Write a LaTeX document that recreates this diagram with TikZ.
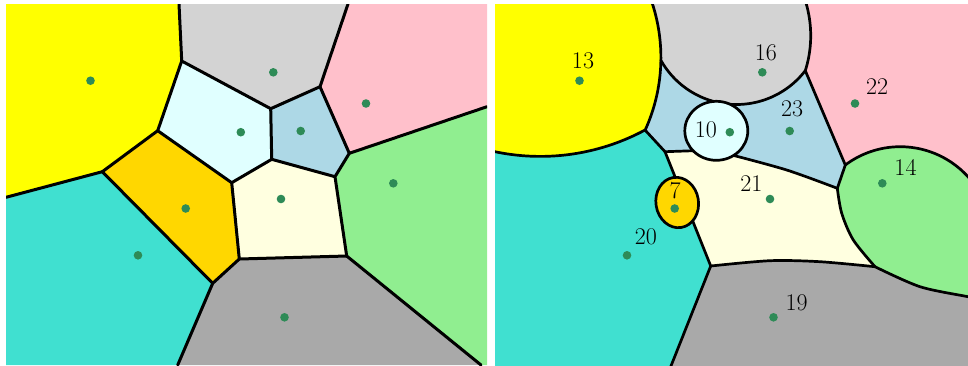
\documentclass[tikz,border=0pt]{standalone}
\usepackage{fontspec}
\setmainfont{Latin Modern Roman}
\definecolor{cyellow}{HTML}{FFFF00}
\definecolor{clgray}{HTML}{D3D3D3}
\definecolor{cpink}{HTML}{FFC0CB}
\definecolor{clcyan}{HTML}{E0FFFF}
\definecolor{clblue}{HTML}{ADD8E6}
\definecolor{clgreen}{HTML}{90EE90}
\definecolor{clyellow}{HTML}{FFFFE0}
\definecolor{cgold}{HTML}{FFD700}
\definecolor{cturq}{HTML}{40E0D0}
\definecolor{cdgray}{HTML}{A9A9A9}
\definecolor{cdot}{HTML}{2E8B57}
\tikzset{
  edgeL/.style={line width=3pt, line join=round, line cap=round},
  edgeR/.style={line width=2.7pt, line join=round, line cap=round},
  site/.style={circle, fill=cdot, inner sep=0pt, minimum size=8.6pt},
  lab/.style={inner sep=0pt, font=\fontsize{24}{28}\selectfont},
  arcplot/.style={samples=60, smooth},
}
\begin{document}
\begin{tikzpicture}[x=1pt,y=-1pt]
\useasboundingbox (0,0) rectangle (968,365);
% ================= LEFT PANEL =================
\coordinate (A) at (179,4);
\coordinate (B) at (181.7,61);
\coordinate (C) at (270.7,108.7);
\coordinate (D) at (320,86.7);
\coordinate (E) at (348,4);
\coordinate (F) at (349.3,153.3);
\coordinate (G) at (487,106.7);
\coordinate (H) at (335,176.7);
\coordinate (I) at (271.7,159.3);
\coordinate (J) at (231.7,182.7);
\coordinate (K) at (157.7,130.7);
\coordinate (L) at (102.3,171.7);
\coordinate (M) at (6,197.3);
\coordinate (N) at (212.7,283.3);
\coordinate (O) at (239.3,259);
\coordinate (P) at (346.7,256);
\coordinate (Q) at (481,365);
\coordinate (R) at (177.7,365);
\fill[cyellow] (6,4) -- (A) -- (B) -- (K) -- (L) -- (M) -- cycle;
\fill[clgray] (A) -- (E) -- (D) -- (C) -- (B) -- cycle;
\fill[cpink] (E) -- (487,4) -- (G) -- (F) -- (D) -- cycle;
\fill[clcyan] (B) -- (C) -- (I) -- (J) -- (K) -- cycle;
\fill[clblue] (C) -- (D) -- (F) -- (H) -- (I) -- cycle;
\fill[clgreen] (G) -- (487,365) -- (Q) -- (P) -- (H) -- (F) -- cycle;
\fill[clyellow] (I) -- (H) -- (P) -- (O) -- (J) -- cycle;
\fill[cgold] (K) -- (J) -- (O) -- (N) -- (L) -- cycle;
\fill[cturq] (M) -- (L) -- (N) -- (R) -- (6,365) -- cycle;
\fill[cdgray] (R) -- (N) -- (O) -- (P) -- (Q) -- cycle;
\begin{scope}
\clip (6,4) rectangle (487,365);
\draw[edgeL] (A) -- (B) -- (C) -- (D) -- (E);
\draw[edgeL] (D) -- (F) -- (G);
\draw[edgeL] (F) -- (H) -- (P) -- (Q);
\draw[edgeL] (C) -- (I) -- (H);
\draw[edgeL] (I) -- (J) -- (K) -- (B);
\draw[edgeL] (K) -- (L) -- (M);
\draw[edgeL] (L) -- (N) -- (O) -- (J);
\draw[edgeL] (O) -- (P);
\draw[edgeL] (N) -- (R);
\end{scope}
\node[site] (l13) at (90.5,80.7) {};
\node[site] (l16) at (273.3,72.3) {};
\node[site] (l22) at (366,103.5) {};
\node[site] (l10) at (240.8,132.2) {};
\node[site] (l23) at (300.7,131) {};
\node[site] (l14) at (393.3,183.3) {};
\node[site] (l21) at (281,199) {};
\node[site] (l7) at (185.7,208.5) {};
\node[site] (l20) at (138,255.3) {};
\node[site] (l19) at (284.5,317.3) {};
% ================= RIGHT PANEL =================
\begin{scope}
\clip (495,4) rectangle (968,365);
\fill[clblue] (495,4) rectangle (968,365);
% pink
\fill[cpink] (799.8,-13.4) -- (995,-13) -- (995,207) -- (845.3,165) -- (805.3,70.7)
  -- plot[arcplot, domain=17.5:-25] ({694.6+116.1*cos(\x)},{35.68+116.1*sin(\x)}) -- cycle;
% gray
\fill[clgray] plot[arcplot, domain=-25:0.8] ({486+174.9*cos(\x)},{57.6+174.9*sin(\x)})
  -- plot[arcplot, domain=150.8:37.6] ({736.5+86.8*cos(\x)},{17.7+86.8*sin(\x)})
  -- plot[arcplot, domain=17.5:-25] ({694.6+116.1*cos(\x)},{35.68+116.1*sin(\x)}) -- cycle;
% yellow
\fill[cyellow] (480,-20) -- plot[arcplot, domain=-25:24.5] ({486+174.9*cos(\x)},{57.6+174.9*sin(\x)})
  -- plot[arcplot, domain=61.7:105] ({540.3+221*cos(\x)},{-64.6+221*sin(\x)}) -- cycle;
% turquoise
\fill[cturq] plot[arcplot, domain=105:61.7] ({540.3+221*cos(\x)},{-64.6+221*sin(\x)})
  -- (665,151.7) -- (710.7,266) -- (667,376) -- (480,376) -- cycle;
% light yellow
\fill[clyellow] (665,151.7) -- (700,150.5) -- (730,154.5)
  -- plot[smooth] coordinates {(730,154.5) (786.7,170) (837.3,188.3)}
  -- plot[smooth] coordinates {(837.3,188.3) (841.7,213.3) (853.3,240) (875,266.7)}
  -- plot[smooth] coordinates {(875,266.7) (820,261.7) (770,260.7) (710.7,266)} -- cycle;
% green
\fill[clgreen] plot[arcplot, domain=-126.9:-20] ({900.2+91.5*cos(\x)},{238.2+91.5*sin(\x)})
  -- (1000,250) -- (990,301)
  -- plot[smooth] coordinates {(990,301) (968,296.7) (920,286.7) (875,266.7)}
  -- plot[smooth] coordinates {(875,266.7) (853.3,240) (841.7,213.3) (837.3,188.3)} -- cycle;
% dark gray
\fill[cdgray] (710.7,266) -- plot[smooth] coordinates {(710.7,266) (770,260.7) (820,261.7) (875,266.7)}
  -- plot[smooth] coordinates {(875,266.7) (920,286.7) (968,296.7) (990,301)}
  -- (990,376) -- (667,376) -- cycle;
% boundaries
\draw[edgeR] plot[arcplot, domain=-25:24.5] ({486+174.9*cos(\x)},{57.6+174.9*sin(\x)});
\draw[edgeR] plot[arcplot, domain=150.8:37.6] ({736.5+86.8*cos(\x)},{17.7+86.8*sin(\x)});
\draw[edgeR] plot[arcplot, domain=17.5:-25] ({694.6+116.1*cos(\x)},{35.68+116.1*sin(\x)});
\draw[edgeR] plot[arcplot, domain=61.7:105] ({540.3+221*cos(\x)},{-64.6+221*sin(\x)});
\draw[edgeR] (645,130) -- (665,151.7) -- (700,150.5);
\draw[edgeR] (665,151.7) -- (710.7,266) -- (667,376);
\draw[edgeR] plot[smooth] coordinates {(730,154.5) (786.7,170) (837.3,188.3)};
\draw[edgeR] (805.3,70.7) -- (845.3,165) -- (837.3,188.3);
\draw[edgeR] plot[arcplot, domain=-126.9:-20] ({900.2+91.5*cos(\x)},{238.2+91.5*sin(\x)});
\draw[edgeR] plot[smooth] coordinates {(837.3,188.3) (841.7,213.3) (853.3,240) (875,266.7)};
\draw[edgeR] plot[smooth] coordinates {(710.7,266) (770,260.7) (820,261.7) (875,266.7)};
\draw[edgeR] plot[smooth] coordinates {(875,266.7) (920,286.7) (968,296.7) (990,301)};
% cells 10 and 7
\filldraw[edgeR, fill=clcyan] (716.3,130.8) ellipse [x radius=31.5, y radius=29.5];
\filldraw[edgeR, fill=cgold, rotate around={9:(677.2,202.5)}] (677.2,202.5) ellipse [x radius=21.3, y radius=25.3];
\end{scope}
\node[site] (r13) at (579.5,80.7) {};
\node[site] (r16) at (762.3,72.3) {};
\node[site] (r22) at (855,103.5) {};
\node[site] (r10) at (729.8,132.2) {};
\node[site] (r23) at (789.7,131) {};
\node[site] (r14) at (882.3,183.3) {};
\node[site] (r21) at (770,199) {};
\node[site] (r7) at (674.7,208.5) {};
\node[site] (r20) at (627,255.3) {};
\node[site] (r19) at (773.5,317.3) {};
\node[lab] (t13) at (583,60.8) {13};
\node[lab] (t16) at (765.8,52.5) {16};
\node[lab] (t22) at (877.2,86.5) {22};
\node[lab] (t23) at (792.2,109.2) {23};
\node[lab] (t10) at (705.8,129.5) {10};
\node[lab] (t14) at (905.5,167.5) {14};
\node[lab] (t21) at (751.3,183.7) {21};
\node[lab] (t7) at (675,190.5) {7};
\node[lab] (t20) at (645.8,236.7) {20};
\node[lab] (t19) at (796.7,302.8) {19};
\end{tikzpicture}
\end{document}
